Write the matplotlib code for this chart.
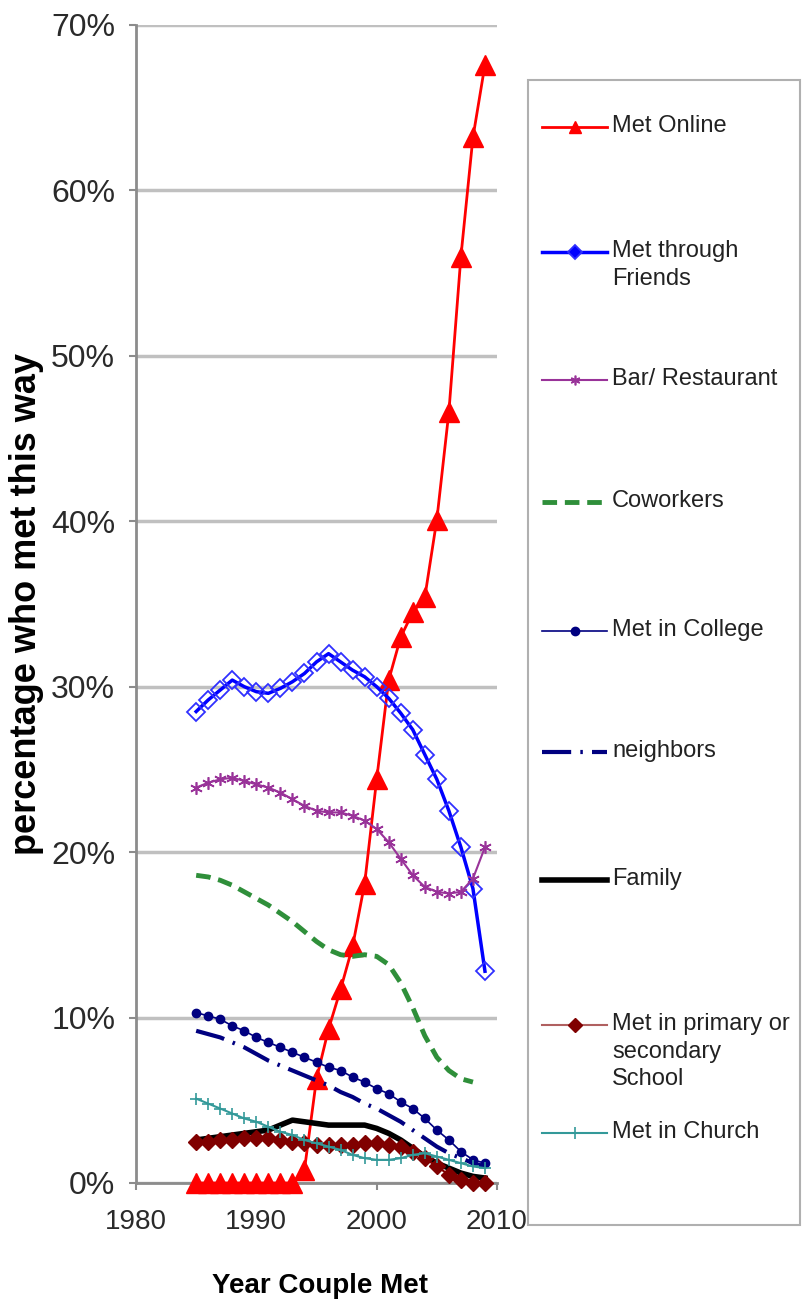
import matplotlib
matplotlib.use("Agg")
import matplotlib.pyplot as plt
from matplotlib.lines import Line2D
from matplotlib.patches import Rectangle

plt.rcParams['font.family'] = ['Liberation Sans', 'DejaVu Sans']

# Data (percent of couples, by year couple met)
years = list(range(1985, 2010))
coworker_years = list(range(1985, 2009))

met_online = [0, 0, 0, 0, 0, 0, 0, 0, 0, 0.8, 6.3, 9.3, 11.7, 14.3, 18.1,
              24.4, 30.4, 33.0, 34.5, 35.4, 40.1, 46.6, 56.0, 63.2, 67.6]
friends = [28.5, 29.2, 29.8, 30.4, 30.0, 29.7, 29.6, 29.9, 30.3, 30.8, 31.5,
           32.0, 31.5, 31.0, 30.6, 30.0, 29.3, 28.4, 27.4, 25.9, 24.4, 22.5,
           20.3, 17.8, 12.8]
bar_restaurant = [23.9, 24.2, 24.4, 24.5, 24.3, 24.1, 23.9, 23.6, 23.2, 22.8,
                  22.5, 22.4, 22.4, 22.2, 21.9, 21.4, 20.6, 19.6, 18.6, 17.9,
                  17.6, 17.5, 17.6, 18.4, 20.3]
coworkers = [18.6, 18.5, 18.3, 18.0, 17.6, 17.2, 16.8, 16.3, 15.8, 15.2, 14.6,
             14.1, 13.8, 13.7, 13.8, 13.7, 13.2, 12.1, 10.6, 8.9, 7.6, 6.8,
             6.3, 6.1]
college = [10.3, 10.1, 9.9, 9.5, 9.2, 8.8, 8.5, 8.2, 7.9, 7.6, 7.3, 7.0, 6.8,
           6.4, 6.1, 5.7, 5.4, 4.9, 4.5, 3.9, 3.2, 2.6, 1.9, 1.4, 1.2]
neighbors = [9.2, 9.0, 8.8, 8.5, 8.2, 7.8, 7.4, 7.1, 6.8, 6.5, 6.2, 5.9, 5.5,
             5.2, 4.8, 4.5, 4.1, 3.7, 3.2, 2.7, 2.2, 1.8, 1.5, 1.2, 1.0]
family = [2.6, 2.7, 2.8, 2.9, 3.0, 3.1, 3.2, 3.5, 3.8, 3.7, 3.6, 3.5, 3.5, 3.5,
          3.5, 3.3, 3.0, 2.6, 2.1, 1.6, 1.2, 0.9, 0.6, 0.4, 0.3]
school = [2.5, 2.5, 2.6, 2.6, 2.7, 2.7, 2.7, 2.6, 2.5, 2.4, 2.3, 2.3, 2.3, 2.3,
          2.4, 2.4, 2.3, 2.2, 1.9, 1.5, 1.0, 0.5, 0.2, 0.0, 0.0]
church = [5.1, 4.8, 4.5, 4.2, 3.9, 3.7, 3.4, 3.1, 2.9, 2.6, 2.4, 2.2, 2.0, 1.7,
          1.5, 1.4, 1.4, 1.5, 1.7, 1.8, 1.6, 1.4, 1.2, 1.0, 0.9]

labels = ["Met Online", "Met through\nFriends", "Bar/ Restaurant", "Coworkers",
          "Met in College", "neighbors", "Family",
          "Met in primary or\nsecondary\nSchool", "Met in Church"]

W, H = 810, 1309
fig = plt.figure(figsize=(W / 100, H / 100), dpi=100)
ax = fig.add_axes([136 / W, 1 - 1183 / H, (497 - 136) / W, (1183 - 25) / H])

# styles for each series
styles = [
    dict(color='#FF0000', lw=2, marker='^', ms=15, mfc='#FF0000', mec='#FF0000'),
    dict(color='#0000FF', lw=2.5, marker='D', ms=9, mfc='none', mec='#3030FF', mew=1.3),
    dict(color='#993399', lw=1.5, marker=(6, 2, 0), ms=9, mec='#993399', mew=1.2),
    dict(color='#2F8F3A', lw=3.5, dashes=(3, 1.6)),
    dict(color='#000080', lw=1.2, marker='o', ms=6, mfc='#000080', mec='#000080'),
    dict(color='#000080', lw=3, dashes=(7, 2.2, 0.6, 2.2)),
    dict(color='#000000', lw=4),
    dict(color='#800000', lw=1.5, marker='D', ms=8, mfc='#800000', mec='#800000'),
    dict(color='#339999', lw=1.5, marker='+', ms=9, mec='#339999', mew=1.2),
]
series = [(years, met_online), (years, friends), (years, bar_restaurant),
          (coworker_years, coworkers), (years, college), (years, neighbors),
          (years, family), (years, school), (years, church)]

for (xs, ys), st in zip(series, styles):
    ax.plot(xs, ys, clip_on=False, zorder=3, **st)

ax.set_xlim(1980, 2010)
ax.set_ylim(0, 70)
ax.set_xticks([1980, 1990, 2000, 2010])
ax.set_yticks(range(0, 71, 10))
ax.set_yticklabels([f"{v}%" for v in range(0, 71, 10)])
ax.yaxis.grid(True, color='#C0C0C0', lw=2.5)
ax.set_axisbelow(True)
for side in ['top', 'right']:
    ax.spines[side].set_visible(False)
for side in ['left', 'bottom']:
    ax.spines[side].set_color('#8C8C8C')
    ax.spines[side].set_linewidth(2)
ax.tick_params(axis='both', direction='out', length=5, width=1.5,
               color='#8C8C8C', labelcolor='#2A2A2A')
ax.tick_params(axis='x', pad=14, labelsize=20)
ax.tick_params(axis='y', pad=10, labelsize=23)

ax.set_ylabel("percentage who met this way", fontsize=26, fontweight='bold')
ax.yaxis.set_label_coords(-0.255, 0.5)
ax.set_xlabel("Year Couple Met", fontsize=20, fontweight='bold')
ax.xaxis.set_label_coords(0.51, -0.078)

# legend drawn as a box on the figure
def fx(px):
    return px / W

def fy(py):
    return 1 - py / H

fig.add_artist(Rectangle((fx(528), fy(1225)), fx(800) - fx(528), fy(80) - fy(1225),
                         transform=fig.transFigure, fill=False,
                         edgecolor='#B0B0B0', lw=1.5))

entry_y = [127, 252, 380, 502, 631, 752, 880, 1025, 1133]
legend_ms = [8, 7, 7, None, 6, None, None, 7, 8]
for lab, st, py, lms in zip(labels, styles, entry_y, legend_ms):
    kw = dict(st)
    if lms is not None:
        kw['ms'] = lms
        kw['markevery'] = [1]
    if kw.get('mfc') == 'none':
        kw['mfc'] = '#0000FF'
    if kw['color'] == '#800000':
        kw['color'] = '#B06060'
    fig.add_artist(Line2D([fx(542), fx(575), fx(607)], [fy(py)] * 3,
                          transform=fig.transFigure, **kw))
    fig.text(fx(612), fy(py) + 0.0095, lab, ha='left', va='top', fontsize=17,
             color='#222222', linespacing=1.35)

fig.savefig("out.png", dpi=100)
